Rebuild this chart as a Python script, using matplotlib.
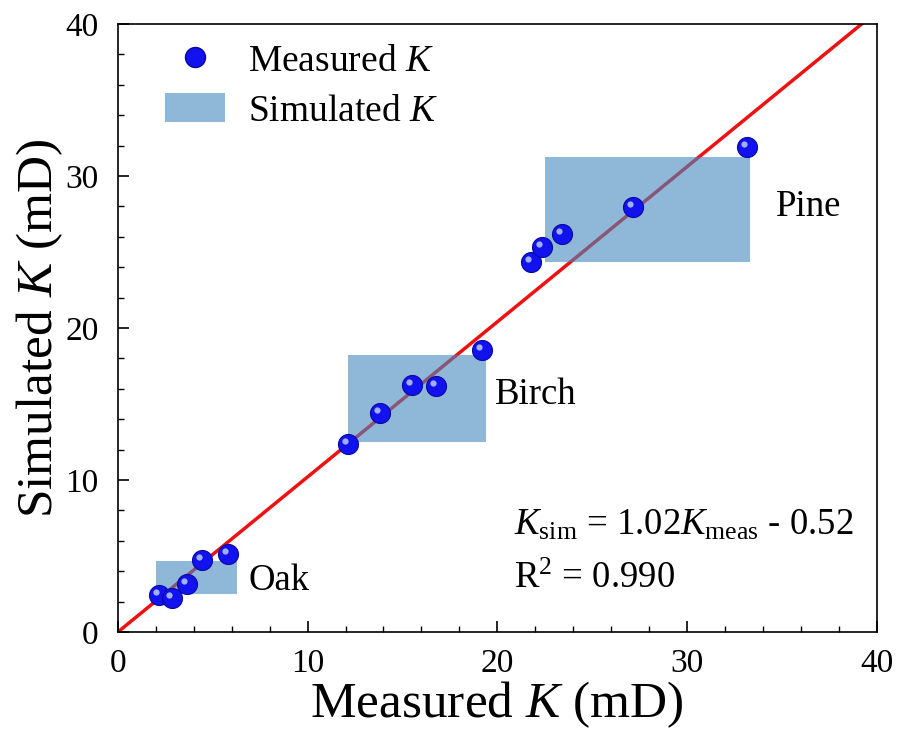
import matplotlib
matplotlib.use("Agg")
import matplotlib.pyplot as plt
from matplotlib.lines import Line2D
from matplotlib.patches import Patch, Rectangle
import matplotlib.transforms as mtransforms

plt.rcParams['font.family'] = ['Liberation Serif', 'DejaVu Serif']
plt.rcParams['mathtext.fontset'] = 'custom'
plt.rcParams['mathtext.rm'] = 'Liberation Serif'
plt.rcParams['mathtext.it'] = 'Liberation Serif:italic'

# Measured vs simulated permeability
meas_x = [2.18, 2.83, 3.62, 4.41, 5.81,
          12.14, 13.84, 15.48, 16.79, 19.22,
          21.80, 22.38, 23.42, 27.16, 33.18]
meas_y = [2.43, 2.25, 3.14, 4.74, 5.13,
          12.35, 14.43, 16.25, 16.18, 18.55,
          24.36, 25.35, 26.16, 27.98, 31.89]

# Simulated ranges per species: (x0, x1, y0, y1)
species = ['Oak', 'Birch', 'Pine']
rect_x0 = [2.0, 12.14, 22.5]
rect_x1 = [6.3, 19.39, 33.31]
rect_y0 = [2.5, 12.48, 24.32]
rect_y1 = [4.7, 18.22, 31.27]
label_x = [6.9, 19.9, 34.7]
label_y = [3.4, 15.6, 28.0]

slope = 1.02
fit_x = [0, 40]

fig = plt.figure(figsize=(9, 7.38), dpi=100)
ax = fig.add_axes([0.131, 0.1436, 0.843, 0.824])

ax.plot(fit_x, [slope * v for v in fit_x], color='#ee1111', lw=2.5, zorder=1)

rect_color = (68/255, 135/255, 190/255)
for x0, x1, y0, y1 in zip(rect_x0, rect_x1, rect_y0, rect_y1):
    ax.add_patch(Rectangle((x0, y0), x1 - x0, y1 - y0, facecolor=rect_color,
                           alpha=0.6, edgecolor='none', zorder=2))

ax.plot(meas_x, meas_y, 'o', ms=14.4, color='#1212ee', mec='#0808a0', mew=0.8, zorder=3)
ax.plot(meas_x, meas_y, 'o', ms=4.5, color='#9fb0ff', mec='none', zorder=4,
        transform=ax.transData + mtransforms.ScaledTranslation(-3/100, 3/100, fig.dpi_scale_trans))

for name, lx, ly in zip(species, label_x, label_y):
    ax.text(lx, ly, name, fontsize=26.5, va='center', ha='left')

ax.text(20.9, 7.0, r'$K_{\rm sim}$ = 1.02$K_{\rm meas}$ - 0.52', fontsize=26.5, va='center', ha='left')
ax.text(20.9, 3.5, r'R$^2$ = 0.990', fontsize=26.5, va='center', ha='left')

ax.set_xlim(0, 40)
ax.set_ylim(0, 40)
ax.set_xticks([0, 10, 20, 30, 40])
ax.set_yticks([0, 10, 20, 30, 40])
ax.set_xticks(range(0, 41, 2), minor=True)
ax.set_yticks(range(0, 41, 2), minor=True)
ax.tick_params(which='both', direction='in', labelsize=24)
ax.tick_params(which='major', length=8, width=1.2)
ax.tick_params(which='minor', length=4, width=1.0)
ax.tick_params(axis='x', pad=12)
ax.tick_params(axis='y', pad=14)
for s in ax.spines.values():
    s.set_linewidth(1.2)

ax.set_xlabel(r'Measured $K$ (mD)', fontsize=37, labelpad=0)
ax.set_ylabel(r'Simulated $K$ (mD)', fontsize=37, labelpad=0)

handles = [Line2D([], [], ls='none', marker='o', ms=14.4, color='#1212ee', mec='#0808a0'),
           Patch(facecolor=rect_color, alpha=0.6, edgecolor='none')]
ax.legend(handles, [r'Measured $K$', r'Simulated $K$'], loc='upper left',
          bbox_to_anchor=(0.018, 1.023), frameon=False, fontsize=27,
          handlelength=1.6, handleheight=0.8, handletextpad=0.6, labelspacing=0.38)

fig.savefig('out.png', dpi=100)
